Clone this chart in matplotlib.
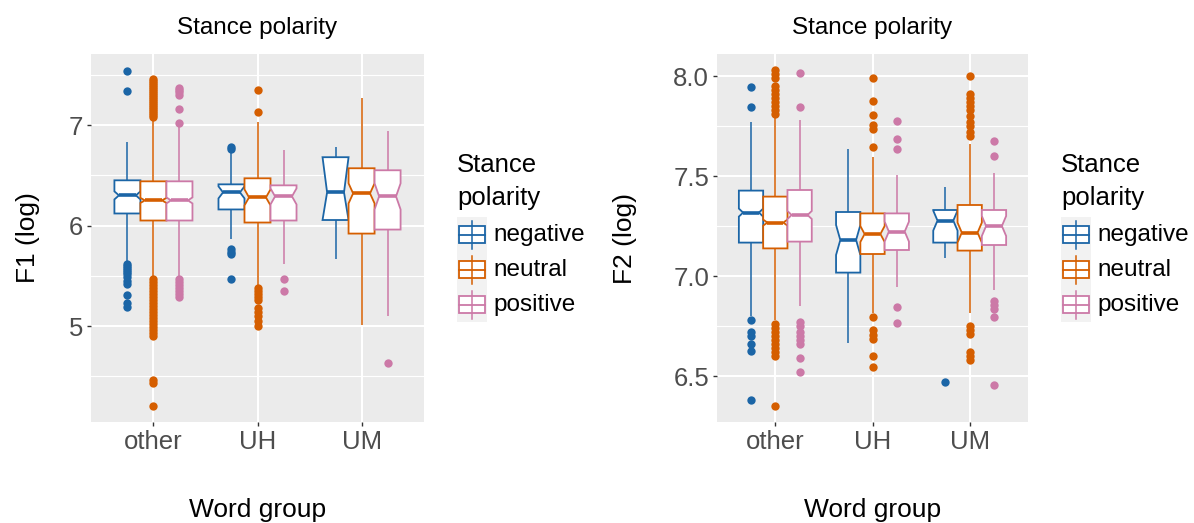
import matplotlib
matplotlib.use("Agg")
import matplotlib.pyplot as plt
from matplotlib.patches import Polygon, Rectangle
from matplotlib.ticker import MultipleLocator, FormatStrFormatter

plt.rcParams['font.family'] = ['Liberation Sans', 'DejaVu Sans']

# ---------------- data ----------------
WORD_GROUPS = ["other", "UH", "UM"]
POLARITIES = ["negative", "neutral", "positive"]
COLORS = ["#1B65A6", "#D55E00", "#CC79A7"]

# rows: negative, neutral, positive ; columns: other, UH, UM
F1_Q1 = [[6.12, 6.16, 6.055], [6.05, 6.03, 5.92], [6.05, 6.05, 5.96]]
F1_MED = [[6.30, 6.33, 6.33], [6.25, 6.28, 6.32], [6.25, 6.29, 6.29]]
F1_Q3 = [[6.45, 6.41, 6.68], [6.44, 6.47, 6.57], [6.44, 6.40, 6.55]]
F1_LO = [[5.65, 5.87, 5.67], [5.50, 5.41, 5.01], [5.49, 5.62, 5.10]]
F1_HI = [[6.83, 6.72, 6.78], [7.05, 7.03, 7.27], [7.00, 6.75, 6.94]]
F1_NOTCH = [[0.04, 0.06, 0.35], [0.025, 0.08, 0.10], [0.03, 0.08, 0.13]]
F1_OUT = [
    [[7.54, 7.34, 5.62, 5.60, 5.58, 5.56, 5.54, 5.52, 5.49, 5.45, 5.42, 5.31, 5.23, 5.19],
     [6.78, 6.76, 5.77, 5.74, 5.72, 5.47],
     []],
    [[7.46, 7.44, 7.42, 7.40, 7.38, 7.36, 7.34, 7.32, 7.30, 7.28, 7.26, 7.24, 7.22,
      7.20, 7.18, 7.16, 7.14, 7.12, 7.10, 7.08,
      5.47, 5.44, 5.41, 5.38, 5.35, 5.32, 5.29, 5.26, 5.23, 5.20, 5.17, 5.14,
      5.11, 5.08, 5.05, 5.02, 4.99, 4.96, 4.93, 4.90, 4.46, 4.43, 4.20],
     [7.35, 7.13, 5.38, 5.35, 5.32, 5.29, 5.26, 5.18, 5.14, 5.10, 5.05, 5.00],
     []],
    [[7.37, 7.35, 7.33, 7.30, 7.16, 7.02, 5.47, 5.44, 5.41, 5.38, 5.35, 5.32, 5.29],
     [5.47, 5.35],
     [4.63]],
]

F2_Q1 = [[7.167, 7.017, 7.167], [7.138, 7.11, 7.127], [7.172, 7.13, 7.155]]
F2_MED = [[7.317, 7.18, 7.277], [7.267, 7.21, 7.217], [7.305, 7.222, 7.25]]
F2_Q3 = [[7.427, 7.32, 7.33], [7.397, 7.313, 7.355], [7.43, 7.313, 7.33]]
F2_LO = [[6.80, 6.663, 7.088], [6.78, 6.813, 6.813], [6.85, 6.947, 6.93]]
F2_HI = [[7.77, 7.633, 7.447], [7.80, 7.597, 7.658], [7.78, 7.505, 7.513]]
F2_NOTCH = [[0.02, 0.075, 0.05], [0.015, 0.04, 0.05], [0.02, 0.05, 0.05]]
F2_OUT = [
    [[7.943, 7.847, 6.78, 6.72, 6.70, 6.66, 6.625, 6.38],
     [],
     [6.472]],
    [[8.03, 8.01, 7.99, 7.95, 7.93, 7.91, 7.89, 7.87, 7.85, 7.83, 7.81,
      6.76, 6.74, 6.72, 6.70, 6.68, 6.66, 6.64, 6.62, 6.60, 6.35],
     [7.99, 7.877, 7.805, 7.755, 7.733, 7.647, 6.797, 6.73, 6.705, 6.683, 6.60, 6.547],
     [8.00, 7.91, 7.89, 7.87, 7.85, 7.83, 7.80, 7.77, 7.75, 7.72, 7.70,
      6.75, 6.73, 6.71, 6.62, 6.60, 6.58]],
    [[8.017, 7.847, 6.77, 6.75, 6.72, 6.70, 6.68, 6.66, 6.59, 6.52],
     [7.777, 7.683, 7.633, 6.843, 6.763],
     [7.677, 7.60, 6.877, 6.855, 6.833, 6.797, 6.455]],
]

# ---------------- style ----------------
W, H = 1194, 523
DODGE = 0.25
BOX_W = 0.25
NOTCH_RATIO = 0.65
BG = "#EBEBEB"
TICK_COL = "#4D4D4D"

fig = plt.figure(figsize=(W / 100, H / 100), dpi=100)


def draw_panel(ax, q1s, meds, q3s, los, his, notches, outs):
    k = 0
    for i in range(len(WORD_GROUPS)):
        for j in range(len(POLARITIES)):
            c = COLORS[j]
            x = i + (j - 1) * DODGE
            q1, med, q3 = q1s[j][i], meds[j][i], q3s[j][i]
            lo, hi, nt = los[j][i], his[j][i], notches[j][i]
            z = 2 + k * 0.01
            k += 1
            o = outs[j][i]
            if o:
                ax.plot([x] * len(o), o, 'o', color=c, ms=6, mec='none', zorder=z)
            ax.plot([x, x], [q3, hi], color=c, lw=1.1, zorder=z, solid_capstyle='butt')
            ax.plot([x, x], [q1, lo], color=c, lw=1.1, zorder=z, solid_capstyle='butt')
            xl, xr = x - BOX_W / 2, x + BOX_W / 2
            d = BOX_W * (1 - NOTCH_RATIO) / 2
            nh = min(med + nt, q3)
            nl = max(med - nt, q1)
            pts = [(xl, q1), (xl, nl), (xl + d, med), (xl, nh), (xl, q3),
                   (xr, q3), (xr, nh), (xr - d, med), (xr, nl), (xr, q1)]
            ax.add_patch(Polygon(pts, closed=True, facecolor='white', edgecolor=c,
                                 lw=1.3, joinstyle='miter', zorder=z + 0.001))
            ax.plot([xl + d, xr - d], [med, med], color=c, lw=2.6, zorder=z + 0.002,
                    solid_capstyle='butt')


def style_axes(ax, ylim, major, minor, fmt, ylabel, lab_x):
    ax.set_facecolor(BG)
    for s in ax.spines.values():
        s.set_visible(False)
    ax.set_xlim(-0.6, 2.6)
    ax.set_ylim(*ylim)
    ax.set_xticks(range(len(WORD_GROUPS)))
    ax.set_xticklabels(WORD_GROUPS)
    ax.yaxis.set_major_locator(MultipleLocator(major))
    ax.yaxis.set_minor_locator(MultipleLocator(minor))
    ax.yaxis.set_major_formatter(FormatStrFormatter(fmt))
    ax.set_axisbelow(True)
    ax.grid(which='major', color='white', lw=1.5)
    ax.grid(which='minor', axis='y', color='white', lw=0.8)
    ax.tick_params(which='major', length=3.2, width=1.0, color='#333333',
                   labelcolor=TICK_COL, labelsize=18.5, pad=2.5)
    ax.tick_params(which='minor', length=0)
    ax.set_xlabel("Word group", fontsize=19, color='black')
    ax.xaxis.set_label_coords(0.5, -0.239)
    ax.xaxis.label.set_va('center')
    ax.set_ylabel(ylabel, fontsize=19, color='black')
    ax.yaxis.set_label_coords(lab_x, 0.5)
    ax.yaxis.label.set_va('center')


# panel geometry in pixels
P_TOP, P_BOT = 54, 422
LEFT_X = (91, 424)
RIGHT_X = (717, 1028)


def add_axes(xr):
    return fig.add_axes([xr[0] / W, 1 - P_BOT / H, (xr[1] - xr[0]) / W, (P_BOT - P_TOP) / H])


ax1 = add_axes(LEFT_X)
draw_panel(ax1, F1_Q1, F1_MED, F1_Q3, F1_LO, F1_HI, F1_NOTCH, F1_OUT)
style_axes(ax1, (4.045, 7.707), 1, 0.5, '%d', "F1 (log)", (28 - LEFT_X[0]) / (LEFT_X[1] - LEFT_X[0]))

ax2 = add_axes(RIGHT_X)
draw_panel(ax2, F2_Q1, F2_MED, F2_Q3, F2_LO, F2_HI, F2_NOTCH, F2_OUT)
style_axes(ax2, (6.27, 8.11), 0.5, 0.25, '%.1f', "F2 (log)", (625 - RIGHT_X[0]) / (RIGHT_X[1] - RIGHT_X[0]))

# titles
for xr in (LEFT_X, RIGHT_X):
    fig.text((xr[0] + xr[1]) / 2 / W, 1 - 28 / H, "Stance polarity", ha='center', va='center',
             fontsize=17.5, color='black')

# legends (drawn in an overlay axes in pixel units)
lg = fig.add_axes([0, 0, 1, 1], facecolor='none')
lg.set_xlim(0, W)
lg.set_ylim(H, 0)
lg.axis('off')

for xr in (LEFT_X, RIGHT_X):
    x0 = xr[1] + 33
    lg.text(x0, 165, "Stance", fontsize=18.5, va='center', ha='left')
    lg.text(x0, 198, "polarity", fontsize=18.5, va='center', ha='left')
    kw, kh = 30, 35
    for j, (pol, c) in enumerate(zip(POLARITIES, COLORS)):
        top = 217 + j * kh
        lg.add_patch(Rectangle((x0, top), kw, kh, facecolor='#F2F2F2', edgecolor='none'))
        cx = x0 + kw / 2
        lg.plot([cx, cx], [top + 0.1 * kh, top + 0.9 * kh], color=c, lw=1.1)
        lg.add_patch(Rectangle((x0 + 2, top + 0.27 * kh), kw - 4, 0.46 * kh,
                               facecolor='white', edgecolor=c, lw=1.3))
        lg.plot([x0 + 2, x0 + kw - 2], [top + kh / 2, top + kh / 2], color=c, lw=1.3)
        lg.text(x0 + kw + 6, top + kh / 2, pol, fontsize=17.5, va='center', ha='left')

fig.savefig("out.png", dpi=100)
